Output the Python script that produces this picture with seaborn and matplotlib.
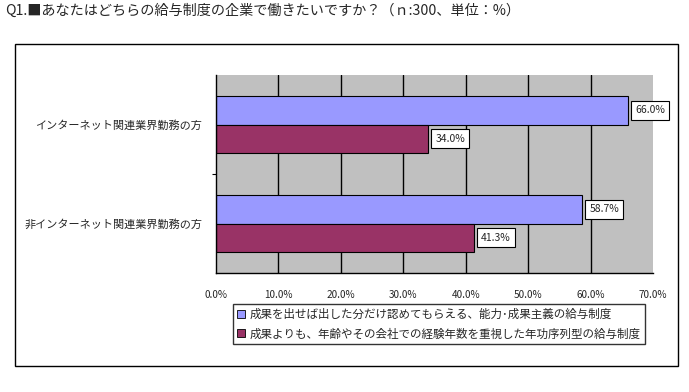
import matplotlib
matplotlib.use("Agg")
import matplotlib.pyplot as plt
import seaborn as sns
import pandas as pd
from matplotlib.patches import Rectangle, Patch
from matplotlib.ticker import FixedLocator

categories = ["インターネット関連業界勤務の方", "非インターネット関連業界勤務の方"]
series = ["成果を出せば出した分だけ認めてもらえる、能力･成果主義の給与制度",
          "成果よりも、年齢やその会社での経験年数を重視した年功序列型の給与制度"]
values_merit = [66.0, 58.7]
values_senior = [34.0, 41.3]
xticks = [0, 10, 20, 30, 40, 50, 60, 70]
title = "Q1.■あなたはどちらの給与制度の企業で働きたいですか？（ｎ:300、単位：%）"

sns.set_theme(style="white")
plt.rcParams['font.family'] = ['Noto Sans CJK JP', 'DejaVu Sans']

df = pd.DataFrame({
    "category": categories * 2,
    "series": [series[0]] * 2 + [series[1]] * 2,
    "value": values_merit + values_senior,
})

W, H = 689, 392
fig = plt.figure(figsize=(W / 100, H / 100), dpi=100)

# outer border
fig.patches.append(Rectangle((15 / W, 1 - 366 / H), (678 - 15) / W, (366 - 44) / H,
                             transform=fig.transFigure, fill=False, edgecolor="black",
                             linewidth=1.0))
fig.text(5 / W, 1 - 11 / H, title, fontsize=10.2, va="center", ha="left")

ax = fig.add_axes([216 / W, 1 - 273 / H, (653 - 216) / W, (273 - 75) / H])
ax.set_facecolor("#C0C0C0")
colors = ["#9999FF", "#993366"]
sns.barplot(data=df, y="category", x="value", hue="series", orient="h",
            palette=colors, width=0.566, edgecolor="black", linewidth=0.8,
            ax=ax, legend=False, saturation=1)

ax.set_xlim(0, 70)
ax.set_ylim(1.5, -0.5)
ax.set_xticks(xticks)
ax.set_xticklabels([f"{t:.1f}%" for t in xticks], fontsize=7.2)
ax.set_xlabel("")
ax.set_ylabel("")
ax.tick_params(axis="x", length=0, pad=12)
ax.tick_params(axis="y", which="major", length=0, pad=10, labelsize=8)
ax.yaxis.set_minor_locator(FixedLocator([0.5]))
ax.tick_params(axis="y", which="minor", length=3, width=0.8, color="black", left=True)

for x in xticks[1:-1]:
    ax.axvline(x, color="black", linewidth=1.0, zorder=0.5)
ax.set_axisbelow(True)

for s in ["top", "right"]:
    ax.spines[s].set_visible(False)
for s in ["left", "bottom"]:
    ax.spines[s].set_color("black")
    ax.spines[s].set_linewidth(1.0)

for cont in ax.containers:
    ax.bar_label(cont, labels=[f"{v:.1f}%" for v in cont.datavalues], padding=5,
                 fontsize=7.5,
                 bbox=dict(boxstyle="square,pad=0.4", facecolor="white",
                           edgecolor="black", linewidth=0.8))

handles = [Patch(facecolor=c, edgecolor="black", linewidth=0.6) for c in colors]
leg = fig.legend(handles, series, loc="upper left",
                 bbox_to_anchor=(233 / W, 1 - 304 / H), fontsize=8.3,
                 frameon=True, fancybox=False, handlelength=0.7, handleheight=0.7,
                 handletextpad=0.4, borderpad=0.35, labelspacing=0.55,
                 borderaxespad=0)
leg.get_frame().set_edgecolor("black")
leg.get_frame().set_linewidth(1.0)

fig.savefig("out.png", dpi=100, facecolor="white")
